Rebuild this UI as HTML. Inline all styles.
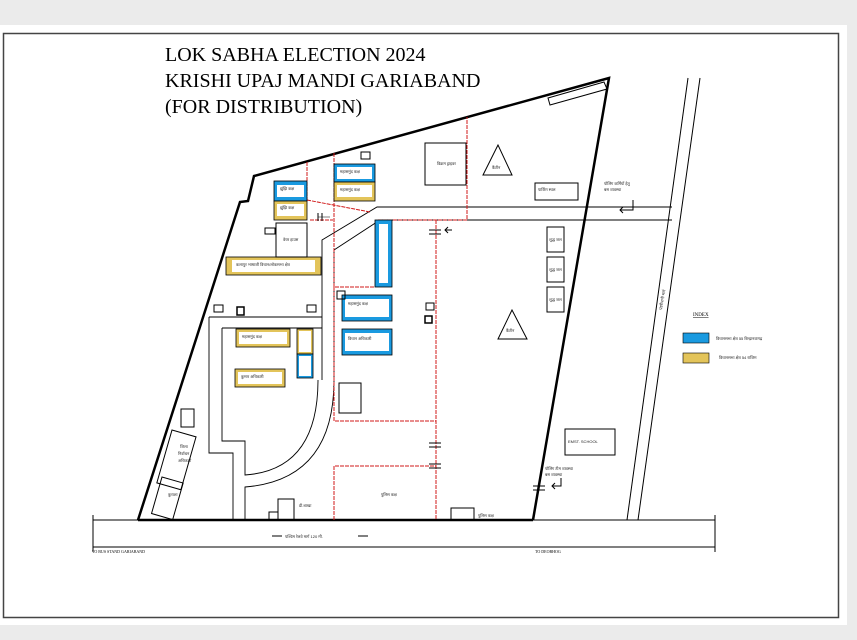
<!DOCTYPE html>
<html><head><meta charset="utf-8"><style>
html,body{margin:0;padding:0;background:#ebebeb;}
svg{display:block;font-family:"Liberation Sans","DejaVu Sans",sans-serif;}
.t{font-size:4px;fill:#222;}
</style></head><body>
<svg width="857" height="640" viewBox="0 0 857 640" xmlns="http://www.w3.org/2000/svg">
<rect x="0" y="0" width="857" height="640" fill="#ebebeb"/>
<rect x="0" y="25" width="847" height="600" fill="#fff"/>
<rect x="3.5" y="33.5" width="835" height="584" fill="none" stroke="#444" stroke-width="1.5"/>
<g font-family="Liberation Serif,serif" font-size="20" fill="#000">
<text x="165" y="61">LOK SABHA ELECTION 2024</text>
<text x="165" y="87">KRISHI UPAJ MANDI GARIABAND</text>
<text x="165" y="113">(FOR DISTRIBUTION)</text>
</g>
<line x1="93" y1="520" x2="715" y2="520" stroke="#000" stroke-width="1"/>
<line x1="93" y1="547" x2="715" y2="547" stroke="#000" stroke-width="1"/>
<line x1="715" y1="515" x2="715" y2="552" stroke="#000"/>
<line x1="93" y1="515" x2="93" y2="552" stroke="#000"/>
<text x="92" y="553" font-family="Liberation Serif,serif" font-size="4">TO BUS STAND GARIABAND</text>
<text x="535" y="553" font-family="Liberation Serif,serif" font-size="4">TO DEOBHOG</text>
<line x1="272" y1="536" x2="282" y2="536" stroke="#000"/><line x1="358" y1="536" x2="368" y2="536" stroke="#000"/>
<text x="285" y="538" class="t">पश्चिम रेलवे मार्ग 120 मी.</text>
<line x1="688" y1="78" x2="627" y2="520" stroke="#000"/>
<line x1="700" y1="78" x2="638" y2="520" stroke="#000"/>
<text x="0" y="0" class="t" transform="translate(662,310) rotate(-80)">पंडरीपानी मार्ग</text>
<path d="M138,520 L240,202 L248,201 L254,176 L609,78 L533,520" fill="none" stroke="#000" stroke-width="2.5"/>
<line x1="138" y1="520" x2="533" y2="520" stroke="#000" stroke-width="2.5"/>
<g fill="none" stroke="#000" stroke-width="0.9">
<path d="M672,207 H377 L322,240 V380"/>
<path d="M672,220 H380 L334,250 V380"/>
<path d="M209,317 H322"/>
<path d="M209,317 V453 H233 V520"/>
<path d="M222,328 H322 M222,328 V441 H245 V475 Q318,470 318,380"/>
<path d="M245,520 V487 Q334,480 334,380"/>
</g>
<g fill="none" stroke="#d01818" stroke-width="1" stroke-dasharray="4 1">
<path d="M307,162 V202"/>
<path d="M334,153 V287 H375"/>
<path d="M310,220 H333"/>
<path d="M307,200 L370,212"/>
<path d="M378,220 H467 V117"/>
<path d="M436,220 V520"/>
<path d="M334,287 V421 H436"/>
<path d="M334,520 V466 H436"/>
</g>
<g stroke="#000" stroke-width="1">
<path d="M429,230 h12 M429,234 h12"/>
<path d="M429,443 h12 M429,447 h12"/>
<path d="M429,464 h12 M429,468 h12"/>
<path d="M533,486 h12 M533,490 h12"/>
<path d="M318,213 v8 M322,213 v8"/>
<path d="M318,217 h12" stroke-width="0.5"/>
</g>
<g stroke="#000" stroke-width="0.8">
<rect x="274" y="181" width="33" height="20" fill="#1a9ae0"/>
<rect x="274" y="201" width="33" height="19" fill="#e3c45a"/>
<rect x="334" y="164" width="41" height="18" fill="#1a9ae0"/>
<rect x="334" y="182" width="41" height="19" fill="#e3c45a"/>
<rect x="226" y="257" width="95" height="18" fill="#e3c45a"/>
<rect x="375" y="220" width="17" height="67" fill="#1a9ae0"/>
<rect x="342" y="295" width="50" height="26" fill="#1a9ae0"/>
<rect x="342" y="329" width="50" height="26" fill="#1a9ae0"/>
<rect x="236" y="329" width="54" height="18" fill="#e3c45a"/>
<rect x="235" y="369" width="50" height="18" fill="#e3c45a"/>
<rect x="297" y="329" width="16" height="25" fill="#e3c45a"/>
<rect x="297" y="354" width="16" height="24" fill="#1a9ae0"/>
</g>
<g fill="#fff">
<rect x="277" y="185" width="27" height="12"/><rect x="277" y="204" width="27" height="12"/>
<rect x="337" y="167" width="35" height="12"/><rect x="337" y="185" width="35" height="12"/>
<rect x="232" y="260" width="83" height="12"/><rect x="379" y="224" width="9" height="59"/>
<rect x="345" y="299" width="44" height="18"/><rect x="345" y="333" width="44" height="18"/>
<rect x="239" y="332" width="48" height="12"/><rect x="238" y="372" width="44" height="12"/>
<rect x="299" y="331" width="12" height="21"/><rect x="299" y="356" width="12" height="20"/>
</g>
<g class="t">
<text x="280" y="190">झुंझि कक्ष</text><text x="280" y="209">झुंझि कक्ष</text>
<text x="340" y="173">महासमुंद कक्ष</text><text x="340" y="191">महासमुंद कक्ष</text>
<text x="236" y="266">कलापुर भाषाजी विधान/लोकसभा क्षेत्र</text>
<text x="348" y="305">महासमुंद कक्ष</text><text x="348" y="340">विधान अधिकारी</text>
<text x="242" y="338">महासमुंद कक्ष</text><text x="241" y="378">कुमार अधिकारी</text>
</g>
<g fill="none" stroke="#000" stroke-width="1">
<rect x="276" y="223" width="31" height="34"/>
<rect x="425" y="143" width="41" height="42"/>
<rect x="535" y="183" width="43" height="17"/>
<rect x="547" y="227" width="17" height="25"/>
<rect x="547" y="257" width="17" height="25"/>
<rect x="547" y="287" width="17" height="25"/>
<rect x="565" y="429" width="50" height="26"/>
<rect x="339" y="383" width="22" height="30"/>
<rect x="278" y="499" width="16" height="21"/>
<rect x="269" y="512" width="9" height="8"/>
<rect x="451" y="508" width="23" height="12"/>
<rect x="181" y="409" width="13" height="18"/>
<rect x="265" y="228" width="10" height="6"/>
<rect x="214" y="305" width="9" height="7"/>
<rect x="307" y="305" width="9" height="7"/>
<rect x="337" y="291" width="8" height="8"/>
<rect x="426" y="303" width="8" height="7"/>
<rect x="237" y="307" width="7" height="8" stroke-width="1.5"/>
<rect x="425" y="316" width="7" height="7" stroke-width="1.5"/>
<rect x="361" y="152" width="9" height="7"/>
<path d="M498,145 L483,175 L512,175 Z"/>
<path d="M512,310 L498,339 L527,339 Z"/>
<path d="M548,98 L604,82 L607,89 L550,105 Z"/>
<rect x="0" y="0" width="25" height="55" transform="translate(172,430) rotate(16)"/>
<rect x="0" y="0" width="22" height="38" transform="translate(162,477) rotate(16)"/>
</g>
<g class="t">
<text x="437" y="165">विक्रम ड्राइवर</text><text x="492" y="169">कैंटीन</text><text x="506" y="332">कैंटीन</text>
<text x="538" y="191">पार्किंग स्थल</text><text x="568" y="443">EMST. SCHOOL</text>
<text x="549" y="241">शुद्ध जल</text><text x="549" y="271">शुद्ध जल</text><text x="549" y="301">शुद्ध जल</text>
<text x="283" y="241">वेयर हाउस</text><text x="381" y="496">पुलिस कक्ष</text><text x="299" y="507">डी.शाखा</text>
<text x="478" y="517">पुलिस कक्ष</text><text x="604" y="185">पोलिंग कर्मियों हेतु</text>
<text x="604" y="191">बस व्यवस्था</text><text x="545" y="470">पोलिंग टीम व्यवस्था</text>
<text x="545" y="476">बस व्यवस्था</text><text x="180" y="448">जिला</text><text x="178" y="455">निर्वाचन</text><text x="178" y="462">अधिकारी</text>
<text x="168" y="496">कुराशा</text>
</g>
<g fill="none" stroke="#000" stroke-width="1">
<path d="M633,200 V210 H620 M623,207 L620,210 L623,213"/>
<path d="M561,478 V486 H552 M555,483 L552,486 L555,489"/>
<path d="M452,230 H445 M448,227 L445,230 L448,233"/>
</g>
<text x="693" y="316" font-family="Liberation Serif,serif" font-size="5" text-decoration="underline">INDEX</text>
<rect x="683" y="333" width="26" height="10" fill="#1a9ae0" stroke="#000" stroke-width="0.6"/>
<rect x="683" y="353" width="26" height="10" fill="#e3c45a" stroke="#000" stroke-width="0.6"/>
<text x="716" y="340" class="t">विधानसभा क्षेत्र 55 बिन्द्रानवागढ़</text>
<text x="719" y="359" class="t">विधानसभा क्षेत्र 54 राजिम</text>
</svg>
</body></html>
